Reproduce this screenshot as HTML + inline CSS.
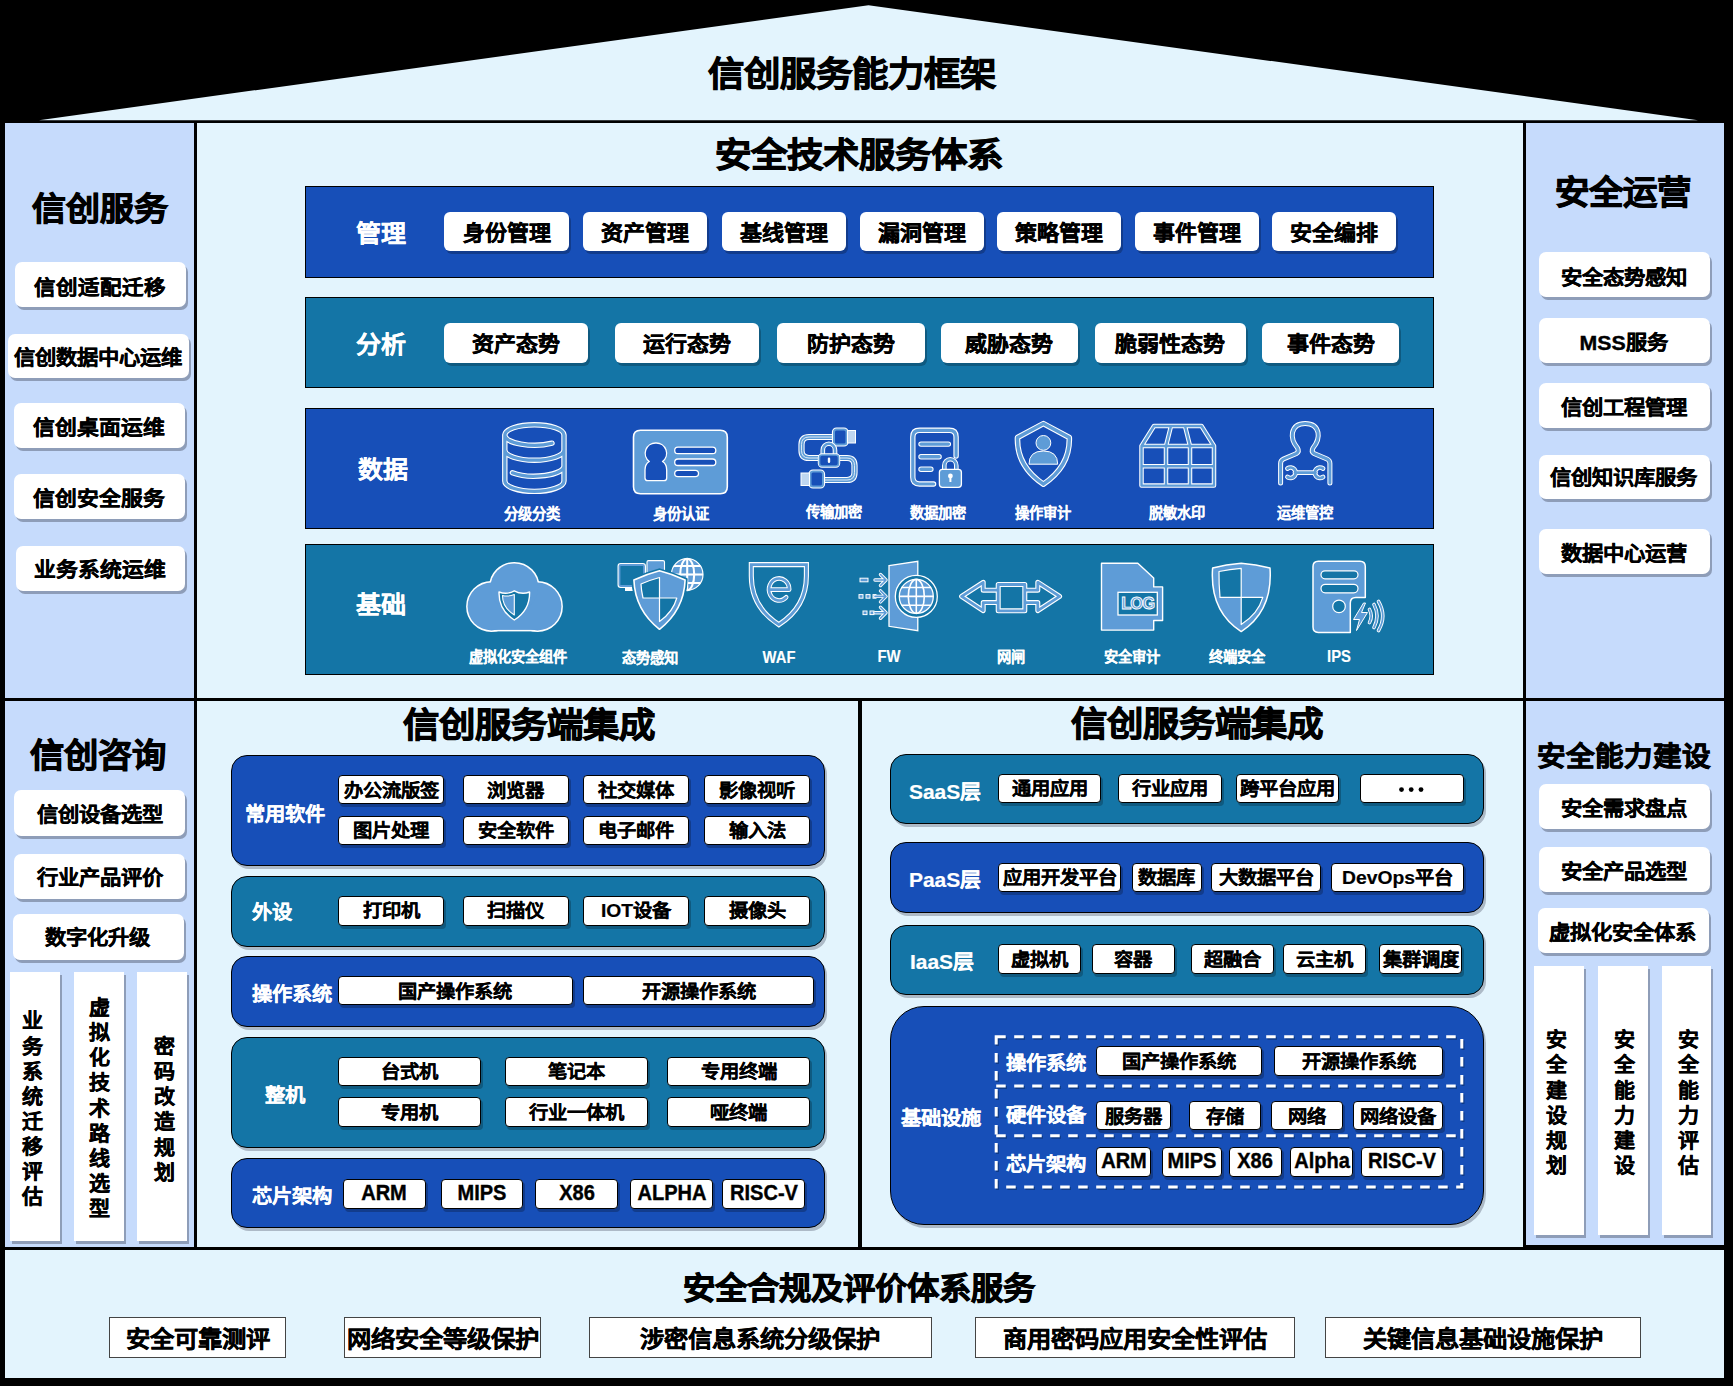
<!DOCTYPE html>
<html lang="zh-CN"><head><meta charset="utf-8"><title>信创服务能力框架</title>
<style>
html,body{margin:0;padding:0;}
body{width:1733px;height:1386px;background:#000;position:relative;overflow:hidden;font-family:"Liberation Sans",sans-serif;}
body>div{position:absolute;}
.t{display:flex;align-items:center;justify-content:center;font-weight:bold;line-height:1;white-space:nowrap;}
svg{position:absolute;left:0;top:0;}
</style></head><body>
<svg width="1733" height="130" style="left:0;top:0"><polygon points="39,120.2 868.5,5.2 1698,120.2" fill="#E3F4FD"/></svg>
<div style="left:5px;top:123px;width:189.2px;height:574.5px;background:#C6DBFC"></div>
<div style="left:197px;top:123px;width:1326px;height:574.5px;background:#E3F4FD"></div>
<div style="left:1526px;top:123px;width:198.3px;height:574.5px;background:#C6DBFC"></div>
<div style="left:5px;top:700.5px;width:188.5px;height:546.5px;background:#C6DBFC"></div>
<div style="left:197px;top:700.5px;width:661px;height:546.5px;background:#E3F4FD"></div>
<div style="left:861.5px;top:700.5px;width:661.5px;height:546.5px;background:#E3F4FD"></div>
<div style="left:1526px;top:700.5px;width:198.3px;height:544.7px;background:#C6DBFC"></div>
<div style="left:5px;top:1250px;width:1719.3px;height:128px;background:#E3F4FD"></div>
<div class="t" style="left:551.5px;top:25.0px;width:600px;height:100px;font-size:36.4px;color:#000;-webkit-text-stroke:1.0px #000;transform:scaleY(0.95);">信创服务能力框架</div>
<div class="t" style="left:558.6px;top:105.9px;width:600px;height:100px;font-size:36.4px;color:#000;-webkit-text-stroke:1.0px #000;transform:scaleY(0.95);">安全技术服务体系</div>
<div class="t" style="left:-199.6px;top:158.5px;width:600px;height:100px;font-size:34px;color:#000;-webkit-text-stroke:1.0px #000;transform:scaleY(0.95);">信创服务</div>
<div class="t" style="left:1322.9px;top:143.1px;width:600px;height:100px;font-size:34.4px;color:#000;-webkit-text-stroke:1.0px #000;transform:scaleY(0.95);">安全运营</div>
<div class="t" style="left:-201.8px;top:705.8px;width:600px;height:100px;font-size:34.3px;color:#000;-webkit-text-stroke:1.0px #000;transform:scaleY(0.95);">信创咨询</div>
<div class="t" style="left:1324.1px;top:705.9px;width:600px;height:100px;font-size:28.5px;color:#000;-webkit-text-stroke:0.8px #000;transform:scaleY(0.95);">安全能力建设</div>
<div class="t" style="left:228.9px;top:675.8px;width:600px;height:100px;font-size:36.4px;color:#000;-webkit-text-stroke:1.0px #000;transform:scaleY(0.95);">信创服务端集成</div>
<div class="t" style="left:896.6px;top:675.1px;width:600px;height:100px;font-size:36.4px;color:#000;-webkit-text-stroke:1.0px #000;transform:scaleY(0.95);">信创服务端集成</div>
<div class="t" style="left:558.7px;top:1239.1px;width:600px;height:100px;font-size:32.3px;color:#000;-webkit-text-stroke:0.9px #000;transform:scaleY(0.95);">安全合规及评价体系服务</div>
<div style="left:14.9px;top:262.1px;width:171.0px;height:45.3px;background:#fff;border-radius:7px;box-shadow:2px 3px 0 #8E9DB8;"></div>
<div class="t" style="left:-199.6px;top:238.8px;width:600px;height:100px;font-size:21.5px;color:#000;-webkit-text-stroke:0.4px #000;transform:scaleY(0.95);">信创适配迁移</div>
<div style="left:8px;top:333.5px;width:180.9px;height:44.0px;background:#fff;border-radius:7px;box-shadow:2px 3px 0 #8E9DB8;"></div>
<div class="t" style="left:-202.3px;top:308.9px;width:600px;height:100px;font-size:21.3px;color:#000;-webkit-text-stroke:0.4px #000;transform:scaleY(0.95);">信创数据中心运维</div>
<div style="left:14.1px;top:403.3px;width:171.0px;height:44.8px;background:#fff;border-radius:7px;box-shadow:2px 3px 0 #8E9DB8;"></div>
<div class="t" style="left:-201.2px;top:378.3px;width:600px;height:100px;font-size:21.8px;color:#000;-webkit-text-stroke:0.4px #000;transform:scaleY(0.95);">信创桌面运维</div>
<div style="left:14.1px;top:474.3px;width:171.0px;height:44.3px;background:#fff;border-radius:7px;box-shadow:2px 3px 0 #8E9DB8;"></div>
<div class="t" style="left:-201.2px;top:448.8px;width:600px;height:100px;font-size:21.8px;color:#000;-webkit-text-stroke:0.4px #000;transform:scaleY(0.95);">信创安全服务</div>
<div style="left:16.1px;top:546px;width:169.0px;height:44.8px;background:#fff;border-radius:7px;box-shadow:2px 3px 0 #8E9DB8;"></div>
<div class="t" style="left:-200.0px;top:520.3px;width:600px;height:100px;font-size:21.8px;color:#000;-webkit-text-stroke:0.4px #000;transform:scaleY(0.95);">业务系统运维</div>
<div style="left:1539.1px;top:252.1px;width:170.9px;height:45.3px;background:#fff;border-radius:7px;box-shadow:2px 3px 0 #8E9DB8;"></div>
<div class="t" style="left:1323.6px;top:228.8px;width:600px;height:100px;font-size:21.3px;color:#000;-webkit-text-stroke:0.4px #000;transform:scaleY(0.95);">安全态势感知</div>
<div style="left:1539.1px;top:317.6px;width:170.9px;height:45.1px;background:#fff;border-radius:7px;box-shadow:2px 3px 0 #8E9DB8;"></div>
<div class="t" style="left:1323.6px;top:293.8px;width:600px;height:100px;font-size:21.3px;color:#000;-webkit-text-stroke:0.4px #000;transform:scaleY(0.95);">MSS服务</div>
<div style="left:1539.1px;top:383.3px;width:170.9px;height:44.8px;background:#fff;border-radius:7px;box-shadow:2px 3px 0 #8E9DB8;"></div>
<div class="t" style="left:1323.6px;top:359.3px;width:600px;height:100px;font-size:21.3px;color:#000;-webkit-text-stroke:0.4px #000;transform:scaleY(0.95);">信创工程管理</div>
<div style="left:1539.1px;top:454.6px;width:170.9px;height:44.0px;background:#fff;border-radius:7px;box-shadow:2px 3px 0 #8E9DB8;"></div>
<div class="t" style="left:1323.6px;top:429.3px;width:600px;height:100px;font-size:21.3px;color:#000;-webkit-text-stroke:0.4px #000;transform:scaleY(0.95);">信创知识库服务</div>
<div style="left:1539.1px;top:529.3px;width:170.9px;height:44.4px;background:#fff;border-radius:7px;box-shadow:2px 3px 0 #8E9DB8;"></div>
<div class="t" style="left:1323.6px;top:504.8px;width:600px;height:100px;font-size:21.3px;color:#000;-webkit-text-stroke:0.4px #000;transform:scaleY(0.95);">数据中心运营</div>
<div style="left:305.2px;top:186px;width:1128.8px;height:91.5px;background:#174FB8;box-sizing:border-box;border:1px solid #000;"></div>
<div style="left:305.2px;top:297px;width:1128.8px;height:91.2px;background:#1475A6;box-sizing:border-box;border:1px solid #000;"></div>
<div style="left:305.2px;top:408.1px;width:1128.8px;height:120.5px;background:#174FB8;box-sizing:border-box;border:1px solid #000;"></div>
<div style="left:305.2px;top:544px;width:1128.8px;height:130.7px;background:#1475A6;box-sizing:border-box;border:1px solid #000;"></div>
<div class="t" style="left:80.5px;top:182.5px;width:600px;height:100px;font-size:25px;color:#fff;-webkit-text-stroke:0.2px #fff;transform:scaleY(0.95);">管理</div>
<div class="t" style="left:80.5px;top:293.8px;width:600px;height:100px;font-size:25px;color:#fff;-webkit-text-stroke:0.2px #fff;transform:scaleY(0.95);">分析</div>
<div class="t" style="left:83.0px;top:418.6px;width:600px;height:100px;font-size:25px;color:#fff;-webkit-text-stroke:0.2px #fff;transform:scaleY(0.95);">数据</div>
<div class="t" style="left:80.6px;top:553.8px;width:600px;height:100px;font-size:25px;color:#fff;-webkit-text-stroke:0.2px #fff;transform:scaleY(0.95);">基础</div>
<div style="left:444.4px;top:212.1px;width:124.2px;height:39.3px;background:#fff;border-radius:6px;box-shadow:2px 3px 0 #123C8C;"></div>
<div class="t" style="left:206.5px;top:182.8px;width:600px;height:100px;font-size:22px;color:#000;-webkit-text-stroke:0.4px #000;transform:scaleY(0.95);">身份管理</div>
<div style="left:583px;top:212.1px;width:124.2px;height:39.3px;background:#fff;border-radius:6px;box-shadow:2px 3px 0 #123C8C;"></div>
<div class="t" style="left:345.1px;top:182.8px;width:600px;height:100px;font-size:22px;color:#000;-webkit-text-stroke:0.4px #000;transform:scaleY(0.95);">资产管理</div>
<div style="left:721.6px;top:212.1px;width:124.2px;height:39.3px;background:#fff;border-radius:6px;box-shadow:2px 3px 0 #123C8C;"></div>
<div class="t" style="left:483.7px;top:182.8px;width:600px;height:100px;font-size:22px;color:#000;-webkit-text-stroke:0.4px #000;transform:scaleY(0.95);">基线管理</div>
<div style="left:860.1px;top:212.1px;width:124.2px;height:39.3px;background:#fff;border-radius:6px;box-shadow:2px 3px 0 #123C8C;"></div>
<div class="t" style="left:622.2px;top:182.8px;width:600px;height:100px;font-size:22px;color:#000;-webkit-text-stroke:0.4px #000;transform:scaleY(0.95);">漏洞管理</div>
<div style="left:997.3px;top:212.1px;width:124.2px;height:39.3px;background:#fff;border-radius:6px;box-shadow:2px 3px 0 #123C8C;"></div>
<div class="t" style="left:759.4px;top:182.8px;width:600px;height:100px;font-size:22px;color:#000;-webkit-text-stroke:0.4px #000;transform:scaleY(0.95);">策略管理</div>
<div style="left:1135.2px;top:212.1px;width:124.2px;height:39.3px;background:#fff;border-radius:6px;box-shadow:2px 3px 0 #123C8C;"></div>
<div class="t" style="left:897.3px;top:182.8px;width:600px;height:100px;font-size:22px;color:#000;-webkit-text-stroke:0.4px #000;transform:scaleY(0.95);">事件管理</div>
<div style="left:1271.7px;top:212.1px;width:124.2px;height:39.3px;background:#fff;border-radius:6px;box-shadow:2px 3px 0 #123C8C;"></div>
<div class="t" style="left:1033.8px;top:182.8px;width:600px;height:100px;font-size:22px;color:#000;-webkit-text-stroke:0.4px #000;transform:scaleY(0.95);">安全编排</div>
<div style="left:444.4px;top:322.6px;width:143.4px;height:40.2px;background:#fff;border-radius:6px;box-shadow:2px 3px 0 #0F5A80;"></div>
<div class="t" style="left:216.1px;top:293.8px;width:600px;height:100px;font-size:22px;color:#000;-webkit-text-stroke:0.4px #000;transform:scaleY(0.95);">资产态势</div>
<div style="left:614.8px;top:322.6px;width:144.3px;height:40.2px;background:#fff;border-radius:6px;box-shadow:2px 3px 0 #0F5A80;"></div>
<div class="t" style="left:387.0px;top:293.8px;width:600px;height:100px;font-size:22px;color:#000;-webkit-text-stroke:0.4px #000;transform:scaleY(0.95);">运行态势</div>
<div style="left:777.4px;top:322.6px;width:147.2px;height:40.2px;background:#fff;border-radius:6px;box-shadow:2px 3px 0 #0F5A80;"></div>
<div class="t" style="left:551.0px;top:293.8px;width:600px;height:100px;font-size:22px;color:#000;-webkit-text-stroke:0.4px #000;transform:scaleY(0.95);">防护态势</div>
<div style="left:940.8px;top:322.6px;width:137.1px;height:40.2px;background:#fff;border-radius:6px;box-shadow:2px 3px 0 #0F5A80;"></div>
<div class="t" style="left:709.4px;top:293.8px;width:600px;height:100px;font-size:22px;color:#000;-webkit-text-stroke:0.4px #000;transform:scaleY(0.95);">威胁态势</div>
<div style="left:1095px;top:322.6px;width:150.6px;height:40.2px;background:#fff;border-radius:6px;box-shadow:2px 3px 0 #0F5A80;"></div>
<div class="t" style="left:870.3px;top:293.8px;width:600px;height:100px;font-size:22px;color:#000;-webkit-text-stroke:0.4px #000;transform:scaleY(0.95);">脆弱性态势</div>
<div style="left:1262.4px;top:322.6px;width:136.6px;height:40.2px;background:#fff;border-radius:6px;box-shadow:2px 3px 0 #0F5A80;"></div>
<div class="t" style="left:1030.7px;top:293.8px;width:600px;height:100px;font-size:22px;color:#000;-webkit-text-stroke:0.4px #000;transform:scaleY(0.95);">事件态势</div>
<div style="left:14px;top:790.3px;width:171.3px;height:45.7px;background:#fff;border-radius:7px;box-shadow:2px 3px 0 #8E9DB8;"></div>
<div class="t" style="left:-200.4px;top:766.0px;width:600px;height:100px;font-size:21.3px;color:#000;-webkit-text-stroke:0.4px #000;transform:scaleY(0.95);">信创设备选型</div>
<div style="left:14px;top:853.7px;width:171.3px;height:45.7px;background:#fff;border-radius:7px;box-shadow:2px 3px 0 #8E9DB8;"></div>
<div class="t" style="left:-200.4px;top:829.4px;width:600px;height:100px;font-size:21.3px;color:#000;-webkit-text-stroke:0.4px #000;transform:scaleY(0.95);">行业产品评价</div>
<div style="left:12.7px;top:913.9px;width:171.3px;height:45.7px;background:#fff;border-radius:7px;box-shadow:2px 3px 0 #8E9DB8;"></div>
<div class="t" style="left:-202.9px;top:889.3px;width:600px;height:100px;font-size:21.3px;color:#000;-webkit-text-stroke:0.4px #000;transform:scaleY(0.95);">数字化升级</div>
<div style="left:10.2px;top:972.3px;width:49.5px;height:268.4px;background:#fff;border-radius:0px;box-shadow:2px 3px 0 #8E9DB8;"></div>
<div class="t" style="left:-267.5px;top:970.4px;width:600px;height:100px;font-size:21px;color:#000;-webkit-text-stroke:0.4px #000;transform:scaleY(0.95);">业</div>
<div class="t" style="left:-267.5px;top:995.5px;width:600px;height:100px;font-size:21px;color:#000;-webkit-text-stroke:0.4px #000;transform:scaleY(0.95);">务</div>
<div class="t" style="left:-267.5px;top:1020.5px;width:600px;height:100px;font-size:21px;color:#000;-webkit-text-stroke:0.4px #000;transform:scaleY(0.95);">系</div>
<div class="t" style="left:-267.5px;top:1045.7px;width:600px;height:100px;font-size:21px;color:#000;-webkit-text-stroke:0.4px #000;transform:scaleY(0.95);">统</div>
<div class="t" style="left:-267.5px;top:1070.8px;width:600px;height:100px;font-size:21px;color:#000;-webkit-text-stroke:0.4px #000;transform:scaleY(0.95);">迁</div>
<div class="t" style="left:-267.5px;top:1095.9px;width:600px;height:100px;font-size:21px;color:#000;-webkit-text-stroke:0.4px #000;transform:scaleY(0.95);">移</div>
<div class="t" style="left:-267.5px;top:1121.0px;width:600px;height:100px;font-size:21px;color:#000;-webkit-text-stroke:0.4px #000;transform:scaleY(0.95);">评</div>
<div class="t" style="left:-267.5px;top:1146.0px;width:600px;height:100px;font-size:21px;color:#000;-webkit-text-stroke:0.4px #000;transform:scaleY(0.95);">估</div>
<div style="left:73.6px;top:972.3px;width:50.0px;height:268.4px;background:#fff;border-radius:0px;box-shadow:2px 3px 0 #8E9DB8;"></div>
<div class="t" style="left:-200.5px;top:957.1px;width:600px;height:100px;font-size:21px;color:#000;-webkit-text-stroke:0.4px #000;transform:scaleY(0.95);">虚</div>
<div class="t" style="left:-200.5px;top:982.2px;width:600px;height:100px;font-size:21px;color:#000;-webkit-text-stroke:0.4px #000;transform:scaleY(0.95);">拟</div>
<div class="t" style="left:-200.5px;top:1007.3px;width:600px;height:100px;font-size:21px;color:#000;-webkit-text-stroke:0.4px #000;transform:scaleY(0.95);">化</div>
<div class="t" style="left:-200.5px;top:1032.4px;width:600px;height:100px;font-size:21px;color:#000;-webkit-text-stroke:0.4px #000;transform:scaleY(0.95);">技</div>
<div class="t" style="left:-200.5px;top:1057.5px;width:600px;height:100px;font-size:21px;color:#000;-webkit-text-stroke:0.4px #000;transform:scaleY(0.95);">术</div>
<div class="t" style="left:-200.5px;top:1082.6px;width:600px;height:100px;font-size:21px;color:#000;-webkit-text-stroke:0.4px #000;transform:scaleY(0.95);">路</div>
<div class="t" style="left:-200.5px;top:1107.7px;width:600px;height:100px;font-size:21px;color:#000;-webkit-text-stroke:0.4px #000;transform:scaleY(0.95);">线</div>
<div class="t" style="left:-200.5px;top:1132.8px;width:600px;height:100px;font-size:21px;color:#000;-webkit-text-stroke:0.4px #000;transform:scaleY(0.95);">选</div>
<div class="t" style="left:-200.5px;top:1157.9px;width:600px;height:100px;font-size:21px;color:#000;-webkit-text-stroke:0.4px #000;transform:scaleY(0.95);">型</div>
<div style="left:137.1px;top:972.3px;width:50.3px;height:268.4px;background:#fff;border-radius:0px;box-shadow:2px 3px 0 #8E9DB8;"></div>
<div class="t" style="left:-136.0px;top:996.0px;width:600px;height:100px;font-size:21px;color:#000;-webkit-text-stroke:0.4px #000;transform:scaleY(0.95);">密</div>
<div class="t" style="left:-136.0px;top:1021.1px;width:600px;height:100px;font-size:21px;color:#000;-webkit-text-stroke:0.4px #000;transform:scaleY(0.95);">码</div>
<div class="t" style="left:-136.0px;top:1046.2px;width:600px;height:100px;font-size:21px;color:#000;-webkit-text-stroke:0.4px #000;transform:scaleY(0.95);">改</div>
<div class="t" style="left:-136.0px;top:1071.3px;width:600px;height:100px;font-size:21px;color:#000;-webkit-text-stroke:0.4px #000;transform:scaleY(0.95);">造</div>
<div class="t" style="left:-136.0px;top:1096.5px;width:600px;height:100px;font-size:21px;color:#000;-webkit-text-stroke:0.4px #000;transform:scaleY(0.95);">规</div>
<div class="t" style="left:-136.0px;top:1121.5px;width:600px;height:100px;font-size:21px;color:#000;-webkit-text-stroke:0.4px #000;transform:scaleY(0.95);">划</div>
<div style="left:1539.1px;top:783.9px;width:170.7px;height:45.2px;background:#fff;border-radius:7px;box-shadow:2px 3px 0 #8E9DB8;"></div>
<div class="t" style="left:1323.7px;top:760.0px;width:600px;height:100px;font-size:21.3px;color:#000;-webkit-text-stroke:0.4px #000;transform:scaleY(0.95);">安全需求盘点</div>
<div style="left:1539.1px;top:847px;width:170.7px;height:45.4px;background:#fff;border-radius:7px;box-shadow:2px 3px 0 #8E9DB8;"></div>
<div class="t" style="left:1323.7px;top:823.3px;width:600px;height:100px;font-size:21.3px;color:#000;-webkit-text-stroke:0.4px #000;transform:scaleY(0.95);">安全产品选型</div>
<div style="left:1538px;top:908px;width:171px;height:44.7px;background:#fff;border-radius:7px;box-shadow:2px 3px 0 #8E9DB8;"></div>
<div class="t" style="left:1322.2px;top:883.8px;width:600px;height:100px;font-size:21.3px;color:#000;-webkit-text-stroke:0.4px #000;transform:scaleY(0.95);">虚拟化安全体系</div>
<div style="left:1534px;top:965.7px;width:50.3px;height:268.9px;background:#fff;border-radius:0px;box-shadow:2px 3px 0 #8E9DB8;"></div>
<div class="t" style="left:1256.6px;top:989.3px;width:600px;height:100px;font-size:21px;color:#000;-webkit-text-stroke:0.4px #000;transform:scaleY(0.95);">安</div>
<div class="t" style="left:1256.6px;top:1014.4px;width:600px;height:100px;font-size:21px;color:#000;-webkit-text-stroke:0.4px #000;transform:scaleY(0.95);">全</div>
<div class="t" style="left:1256.6px;top:1039.5px;width:600px;height:100px;font-size:21px;color:#000;-webkit-text-stroke:0.4px #000;transform:scaleY(0.95);">建</div>
<div class="t" style="left:1256.6px;top:1064.6px;width:600px;height:100px;font-size:21px;color:#000;-webkit-text-stroke:0.4px #000;transform:scaleY(0.95);">设</div>
<div class="t" style="left:1256.6px;top:1089.8px;width:600px;height:100px;font-size:21px;color:#000;-webkit-text-stroke:0.4px #000;transform:scaleY(0.95);">规</div>
<div class="t" style="left:1256.6px;top:1114.8px;width:600px;height:100px;font-size:21px;color:#000;-webkit-text-stroke:0.4px #000;transform:scaleY(0.95);">划</div>
<div style="left:1598.1px;top:965.7px;width:49.7px;height:268.9px;background:#fff;border-radius:0px;box-shadow:2px 3px 0 #8E9DB8;"></div>
<div class="t" style="left:1324.2px;top:989.3px;width:600px;height:100px;font-size:21px;color:#000;-webkit-text-stroke:0.4px #000;transform:scaleY(0.95);">安</div>
<div class="t" style="left:1324.2px;top:1014.4px;width:600px;height:100px;font-size:21px;color:#000;-webkit-text-stroke:0.4px #000;transform:scaleY(0.95);">全</div>
<div class="t" style="left:1324.2px;top:1039.5px;width:600px;height:100px;font-size:21px;color:#000;-webkit-text-stroke:0.4px #000;transform:scaleY(0.95);">能</div>
<div class="t" style="left:1324.2px;top:1064.6px;width:600px;height:100px;font-size:21px;color:#000;-webkit-text-stroke:0.4px #000;transform:scaleY(0.95);">力</div>
<div class="t" style="left:1324.2px;top:1089.8px;width:600px;height:100px;font-size:21px;color:#000;-webkit-text-stroke:0.4px #000;transform:scaleY(0.95);">建</div>
<div class="t" style="left:1324.2px;top:1114.8px;width:600px;height:100px;font-size:21px;color:#000;-webkit-text-stroke:0.4px #000;transform:scaleY(0.95);">设</div>
<div style="left:1661.9px;top:965.7px;width:49.4px;height:268.9px;background:#fff;border-radius:0px;box-shadow:2px 3px 0 #8E9DB8;"></div>
<div class="t" style="left:1388.6px;top:989.3px;width:600px;height:100px;font-size:21px;color:#000;-webkit-text-stroke:0.4px #000;transform:scaleY(0.95);">安</div>
<div class="t" style="left:1388.6px;top:1014.4px;width:600px;height:100px;font-size:21px;color:#000;-webkit-text-stroke:0.4px #000;transform:scaleY(0.95);">全</div>
<div class="t" style="left:1388.6px;top:1039.5px;width:600px;height:100px;font-size:21px;color:#000;-webkit-text-stroke:0.4px #000;transform:scaleY(0.95);">能</div>
<div class="t" style="left:1388.6px;top:1064.6px;width:600px;height:100px;font-size:21px;color:#000;-webkit-text-stroke:0.4px #000;transform:scaleY(0.95);">力</div>
<div class="t" style="left:1388.6px;top:1089.8px;width:600px;height:100px;font-size:21px;color:#000;-webkit-text-stroke:0.4px #000;transform:scaleY(0.95);">评</div>
<div class="t" style="left:1388.6px;top:1114.8px;width:600px;height:100px;font-size:21px;color:#000;-webkit-text-stroke:0.4px #000;transform:scaleY(0.95);">估</div>
<div style="left:230.5px;top:754.5px;width:594.1px;height:111.0px;background:#174FB8;border-radius:16px;box-sizing:border-box;border:1.3px solid #000;box-shadow:2px 3px 0 #ADBAC7"></div>
<div class="t" style="left:-14.7px;top:764.0px;width:600px;height:100px;font-size:20.3px;color:#fff;-webkit-text-stroke:0.2px #fff;transform:scaleY(0.95);">常用软件</div>
<div style="left:338.2px;top:775.1px;width:106.1px;height:29.3px;background:#fff;border-radius:4px;box-shadow:2px 3px 0 #123C8C;box-sizing:border-box;border:1px solid #000;"></div>
<div class="t" style="left:91.2px;top:740.5px;width:600px;height:100px;font-size:19.3px;color:#000;-webkit-text-stroke:0.2px #000;transform:scaleY(0.95);">办公流版签</div>
<div style="left:462.7px;top:775.1px;width:106.1px;height:29.3px;background:#fff;border-radius:4px;box-shadow:2px 3px 0 #123C8C;box-sizing:border-box;border:1px solid #000;"></div>
<div class="t" style="left:215.8px;top:740.5px;width:600px;height:100px;font-size:19.3px;color:#000;-webkit-text-stroke:0.2px #000;transform:scaleY(0.95);">浏览器</div>
<div style="left:583.1px;top:775.1px;width:105.8px;height:29.3px;background:#fff;border-radius:4px;box-shadow:2px 3px 0 #123C8C;box-sizing:border-box;border:1px solid #000;"></div>
<div class="t" style="left:336.0px;top:740.5px;width:600px;height:100px;font-size:19.3px;color:#000;-webkit-text-stroke:0.2px #000;transform:scaleY(0.95);">社交媒体</div>
<div style="left:703.9px;top:775.1px;width:106.1px;height:29.3px;background:#fff;border-radius:4px;box-shadow:2px 3px 0 #123C8C;box-sizing:border-box;border:1px solid #000;"></div>
<div class="t" style="left:457.0px;top:740.5px;width:600px;height:100px;font-size:19.3px;color:#000;-webkit-text-stroke:0.2px #000;transform:scaleY(0.95);">影像视听</div>
<div style="left:338.2px;top:815.7px;width:106.1px;height:29.2px;background:#fff;border-radius:4px;box-shadow:2px 3px 0 #123C8C;box-sizing:border-box;border:1px solid #000;"></div>
<div class="t" style="left:91.2px;top:781.1px;width:600px;height:100px;font-size:19.3px;color:#000;-webkit-text-stroke:0.2px #000;transform:scaleY(0.95);">图片处理</div>
<div style="left:462.7px;top:815.7px;width:106.1px;height:29.2px;background:#fff;border-radius:4px;box-shadow:2px 3px 0 #123C8C;box-sizing:border-box;border:1px solid #000;"></div>
<div class="t" style="left:215.8px;top:781.1px;width:600px;height:100px;font-size:19.3px;color:#000;-webkit-text-stroke:0.2px #000;transform:scaleY(0.95);">安全软件</div>
<div style="left:583.1px;top:815.7px;width:105.8px;height:29.2px;background:#fff;border-radius:4px;box-shadow:2px 3px 0 #123C8C;box-sizing:border-box;border:1px solid #000;"></div>
<div class="t" style="left:336.0px;top:781.1px;width:600px;height:100px;font-size:19.3px;color:#000;-webkit-text-stroke:0.2px #000;transform:scaleY(0.95);">电子邮件</div>
<div style="left:703.9px;top:815.7px;width:106.1px;height:29.2px;background:#fff;border-radius:4px;box-shadow:2px 3px 0 #123C8C;box-sizing:border-box;border:1px solid #000;"></div>
<div class="t" style="left:457.0px;top:781.1px;width:600px;height:100px;font-size:19.3px;color:#000;-webkit-text-stroke:0.2px #000;transform:scaleY(0.95);">输入法</div>
<div style="left:230.5px;top:875.7px;width:594.1px;height:71.2px;background:#1475A6;border-radius:16px;box-sizing:border-box;border:1.3px solid #000;box-shadow:2px 3px 0 #ADBAC7"></div>
<div class="t" style="left:-28.4px;top:862.1px;width:600px;height:100px;font-size:20.3px;color:#fff;-webkit-text-stroke:0.2px #fff;transform:scaleY(0.95);">外设</div>
<div style="left:338.2px;top:895.6px;width:106.1px;height:30.0px;background:#fff;border-radius:4px;box-shadow:2px 3px 0 #0F5A80;box-sizing:border-box;border:1px solid #000;"></div>
<div class="t" style="left:91.2px;top:861.4px;width:600px;height:100px;font-size:19.3px;color:#000;-webkit-text-stroke:0.2px #000;transform:scaleY(0.95);">打印机</div>
<div style="left:462.7px;top:895.6px;width:106.1px;height:30.0px;background:#fff;border-radius:4px;box-shadow:2px 3px 0 #0F5A80;box-sizing:border-box;border:1px solid #000;"></div>
<div class="t" style="left:215.8px;top:861.4px;width:600px;height:100px;font-size:19.3px;color:#000;-webkit-text-stroke:0.2px #000;transform:scaleY(0.95);">扫描仪</div>
<div style="left:583.1px;top:895.6px;width:105.8px;height:30.0px;background:#fff;border-radius:4px;box-shadow:2px 3px 0 #0F5A80;box-sizing:border-box;border:1px solid #000;"></div>
<div class="t" style="left:336.0px;top:861.4px;width:600px;height:100px;font-size:19.3px;color:#000;-webkit-text-stroke:0.2px #000;transform:scaleY(0.95);">IOT设备</div>
<div style="left:703.9px;top:895.6px;width:106.1px;height:30.0px;background:#fff;border-radius:4px;box-shadow:2px 3px 0 #0F5A80;box-sizing:border-box;border:1px solid #000;"></div>
<div class="t" style="left:457.0px;top:861.4px;width:600px;height:100px;font-size:19.3px;color:#000;-webkit-text-stroke:0.2px #000;transform:scaleY(0.95);">摄像头</div>
<div style="left:230.5px;top:956.4px;width:594.1px;height:70.5px;background:#174FB8;border-radius:16px;box-sizing:border-box;border:1.3px solid #000;box-shadow:2px 3px 0 #ADBAC7"></div>
<div class="t" style="left:-8.2px;top:943.9px;width:600px;height:100px;font-size:20.3px;color:#fff;-webkit-text-stroke:0.2px #fff;transform:scaleY(0.95);">操作系统</div>
<div style="left:338.2px;top:976.3px;width:234.4px;height:29.2px;background:#fff;border-radius:4px;box-shadow:2px 3px 0 #123C8C;box-sizing:border-box;border:1px solid #000;"></div>
<div class="t" style="left:155.4px;top:941.7px;width:600px;height:100px;font-size:19.3px;color:#000;-webkit-text-stroke:0.2px #000;transform:scaleY(0.95);">国产操作系统</div>
<div style="left:583.1px;top:976.3px;width:231.4px;height:29.2px;background:#fff;border-radius:4px;box-shadow:2px 3px 0 #123C8C;box-sizing:border-box;border:1px solid #000;"></div>
<div class="t" style="left:398.8px;top:941.7px;width:600px;height:100px;font-size:19.3px;color:#000;-webkit-text-stroke:0.2px #000;transform:scaleY(0.95);">开源操作系统</div>
<div style="left:230.5px;top:1037px;width:594.1px;height:110.7px;background:#1475A6;border-radius:16px;box-sizing:border-box;border:1.3px solid #000;box-shadow:2px 3px 0 #ADBAC7"></div>
<div class="t" style="left:-15.1px;top:1044.8px;width:600px;height:100px;font-size:20.3px;color:#fff;-webkit-text-stroke:0.2px #fff;transform:scaleY(0.95);">整机</div>
<div style="left:338.2px;top:1056.9px;width:143.2px;height:29.3px;background:#fff;border-radius:4px;box-shadow:2px 3px 0 #0F5A80;box-sizing:border-box;border:1px solid #000;"></div>
<div class="t" style="left:109.8px;top:1022.4px;width:600px;height:100px;font-size:19.3px;color:#000;-webkit-text-stroke:0.2px #000;transform:scaleY(0.95);">台式机</div>
<div style="left:505px;top:1056.9px;width:142.6px;height:29.3px;background:#fff;border-radius:4px;box-shadow:2px 3px 0 #0F5A80;box-sizing:border-box;border:1px solid #000;"></div>
<div class="t" style="left:276.3px;top:1022.4px;width:600px;height:100px;font-size:19.3px;color:#000;-webkit-text-stroke:0.2px #000;transform:scaleY(0.95);">笔记本</div>
<div style="left:667.1px;top:1056.9px;width:142.9px;height:29.3px;background:#fff;border-radius:4px;box-shadow:2px 3px 0 #0F5A80;box-sizing:border-box;border:1px solid #000;"></div>
<div class="t" style="left:438.5px;top:1022.4px;width:600px;height:100px;font-size:19.3px;color:#000;-webkit-text-stroke:0.2px #000;transform:scaleY(0.95);">专用终端</div>
<div style="left:338.2px;top:1097.4px;width:143.2px;height:29.3px;background:#fff;border-radius:4px;box-shadow:2px 3px 0 #0F5A80;box-sizing:border-box;border:1px solid #000;"></div>
<div class="t" style="left:109.8px;top:1062.9px;width:600px;height:100px;font-size:19.3px;color:#000;-webkit-text-stroke:0.2px #000;transform:scaleY(0.95);">专用机</div>
<div style="left:505px;top:1097.4px;width:142.6px;height:29.3px;background:#fff;border-radius:4px;box-shadow:2px 3px 0 #0F5A80;box-sizing:border-box;border:1px solid #000;"></div>
<div class="t" style="left:276.3px;top:1062.9px;width:600px;height:100px;font-size:19.3px;color:#000;-webkit-text-stroke:0.2px #000;transform:scaleY(0.95);">行业一体机</div>
<div style="left:667.1px;top:1097.4px;width:142.9px;height:29.3px;background:#fff;border-radius:4px;box-shadow:2px 3px 0 #0F5A80;box-sizing:border-box;border:1px solid #000;"></div>
<div class="t" style="left:438.5px;top:1062.9px;width:600px;height:100px;font-size:19.3px;color:#000;-webkit-text-stroke:0.2px #000;transform:scaleY(0.95);">哑终端</div>
<div style="left:230.5px;top:1158.2px;width:594.1px;height:70.1px;background:#174FB8;border-radius:16px;box-sizing:border-box;border:1.3px solid #000;box-shadow:2px 3px 0 #ADBAC7"></div>
<div class="t" style="left:-8.2px;top:1146.1px;width:600px;height:100px;font-size:20.3px;color:#fff;-webkit-text-stroke:0.2px #fff;transform:scaleY(0.95);">芯片架构</div>
<div style="left:343px;top:1178.8px;width:82.6px;height:30.0px;background:#fff;border-radius:4px;box-shadow:2px 3px 0 #123C8C;box-sizing:border-box;border:1px solid #000;"></div>
<div class="t" style="left:84.3px;top:1142.9px;width:600px;height:100px;font-size:22.26px;color:#000;-webkit-text-stroke:0.4px #000;transform:scaleX(0.9);">ARM</div>
<div style="left:440.6px;top:1178.8px;width:82.5px;height:30.0px;background:#fff;border-radius:4px;box-shadow:2px 3px 0 #123C8C;box-sizing:border-box;border:1px solid #000;"></div>
<div class="t" style="left:181.9px;top:1142.9px;width:600px;height:100px;font-size:22.26px;color:#000;-webkit-text-stroke:0.4px #000;transform:scaleX(0.9);">MIPS</div>
<div style="left:535.1px;top:1178.8px;width:83.2px;height:30.0px;background:#fff;border-radius:4px;box-shadow:2px 3px 0 #123C8C;box-sizing:border-box;border:1px solid #000;"></div>
<div class="t" style="left:276.7px;top:1142.9px;width:600px;height:100px;font-size:22.26px;color:#000;-webkit-text-stroke:0.4px #000;transform:scaleX(0.9);">X86</div>
<div style="left:630px;top:1178.8px;width:83.3px;height:30.0px;background:#fff;border-radius:4px;box-shadow:2px 3px 0 #123C8C;box-sizing:border-box;border:1px solid #000;"></div>
<div class="t" style="left:371.6px;top:1142.9px;width:600px;height:100px;font-size:22.26px;color:#000;-webkit-text-stroke:0.4px #000;transform:scaleX(0.9);">ALPHA</div>
<div style="left:721.9px;top:1178.8px;width:83.3px;height:30.0px;background:#fff;border-radius:4px;box-shadow:2px 3px 0 #123C8C;box-sizing:border-box;border:1px solid #000;"></div>
<div class="t" style="left:463.5px;top:1142.9px;width:600px;height:100px;font-size:22.26px;color:#000;-webkit-text-stroke:0.4px #000;transform:scaleX(0.9);">RISC-V</div>
<div style="left:889.7px;top:753.6px;width:594.8px;height:70.4px;background:#1475A6;border-radius:16px;box-sizing:border-box;border:1.3px solid #000;box-shadow:2px 3px 0 #ADBAC7"></div>
<div class="t" style="left:645.1px;top:741.3px;width:600px;height:100px;font-size:21px;color:#fff;-webkit-text-stroke:0.2px #fff;transform:scaleY(0.95);">SaaS层</div>
<div style="left:997.9px;top:773.8px;width:103.1px;height:29.7px;background:#fff;border-radius:4px;box-shadow:2px 3px 0 #0F5A80;box-sizing:border-box;border:1px solid #000;"></div>
<div class="t" style="left:749.5px;top:739.4px;width:600px;height:100px;font-size:19.3px;color:#000;-webkit-text-stroke:0.2px #000;transform:scaleY(0.95);">通用应用</div>
<div style="left:1118.2px;top:773.8px;width:103.6px;height:29.7px;background:#fff;border-radius:4px;box-shadow:2px 3px 0 #0F5A80;box-sizing:border-box;border:1px solid #000;"></div>
<div class="t" style="left:870.0px;top:739.4px;width:600px;height:100px;font-size:19.3px;color:#000;-webkit-text-stroke:0.2px #000;transform:scaleY(0.95);">行业应用</div>
<div style="left:1235.9px;top:773.8px;width:103.1px;height:29.7px;background:#fff;border-radius:4px;box-shadow:2px 3px 0 #0F5A80;box-sizing:border-box;border:1px solid #000;"></div>
<div class="t" style="left:987.5px;top:739.4px;width:600px;height:100px;font-size:19.3px;color:#000;-webkit-text-stroke:0.2px #000;transform:scaleY(0.95);">跨平台应用</div>
<div style="left:1360px;top:773.8px;width:104.3px;height:29.7px;background:#fff;border-radius:4px;box-shadow:2px 3px 0 #0F5A80;box-sizing:border-box;border:1px solid #000;"></div>
<svg width="40" height="20" style="left:1392px;top:780px"><circle cx="9.5" cy="9.6" r="2.4"/><circle cx="19.2" cy="9.6" r="2.4"/><circle cx="29" cy="9.6" r="2.4"/></svg>
<div style="left:889.7px;top:842.3px;width:594.8px;height:70.5px;background:#174FB8;border-radius:16px;box-sizing:border-box;border:1.3px solid #000;box-shadow:2px 3px 0 #ADBAC7"></div>
<div class="t" style="left:645.1px;top:829.3px;width:600px;height:100px;font-size:21px;color:#fff;-webkit-text-stroke:0.2px #fff;transform:scaleY(0.95);">PaaS层</div>
<div style="left:997.9px;top:862.5px;width:123.3px;height:29.3px;background:#fff;border-radius:4px;box-shadow:2px 3px 0 #123C8C;box-sizing:border-box;border:1px solid #000;"></div>
<div class="t" style="left:759.5px;top:827.9px;width:600px;height:100px;font-size:19.3px;color:#000;-webkit-text-stroke:0.2px #000;transform:scaleY(0.95);">应用开发平台</div>
<div style="left:1131.5px;top:862.5px;width:70.1px;height:29.3px;background:#fff;border-radius:4px;box-shadow:2px 3px 0 #123C8C;box-sizing:border-box;border:1px solid #000;"></div>
<div class="t" style="left:866.5px;top:827.9px;width:600px;height:100px;font-size:19.3px;color:#000;-webkit-text-stroke:0.2px #000;transform:scaleY(0.95);">数据库</div>
<div style="left:1210.7px;top:862.5px;width:110.8px;height:29.3px;background:#fff;border-radius:4px;box-shadow:2px 3px 0 #123C8C;box-sizing:border-box;border:1px solid #000;"></div>
<div class="t" style="left:966.1px;top:827.9px;width:600px;height:100px;font-size:19.3px;color:#000;-webkit-text-stroke:0.2px #000;transform:scaleY(0.95);">大数据平台</div>
<div style="left:1331.4px;top:862.5px;width:132.2px;height:29.3px;background:#fff;border-radius:4px;box-shadow:2px 3px 0 #123C8C;box-sizing:border-box;border:1px solid #000;"></div>
<div class="t" style="left:1097.5px;top:827.9px;width:600px;height:100px;font-size:19.3px;color:#000;-webkit-text-stroke:0.2px #000;transform:scaleY(0.95);">DevOps平台</div>
<div style="left:889.7px;top:925px;width:594.8px;height:69.6px;background:#1475A6;border-radius:16px;box-sizing:border-box;border:1.3px solid #000;box-shadow:2px 3px 0 #ADBAC7"></div>
<div class="t" style="left:642.0px;top:910.8px;width:600px;height:100px;font-size:21px;color:#fff;-webkit-text-stroke:0.2px #fff;transform:scaleY(0.95);">IaaS层</div>
<div style="left:997.9px;top:944.4px;width:83.0px;height:29.3px;background:#fff;border-radius:4px;box-shadow:2px 3px 0 #0F5A80;box-sizing:border-box;border:1px solid #000;"></div>
<div class="t" style="left:739.4px;top:909.8px;width:600px;height:100px;font-size:19.3px;color:#000;-webkit-text-stroke:0.2px #000;transform:scaleY(0.95);">虚拟机</div>
<div style="left:1091.5px;top:944.4px;width:83.0px;height:29.3px;background:#fff;border-radius:4px;box-shadow:2px 3px 0 #0F5A80;box-sizing:border-box;border:1px solid #000;"></div>
<div class="t" style="left:833.0px;top:909.8px;width:600px;height:100px;font-size:19.3px;color:#000;-webkit-text-stroke:0.2px #000;transform:scaleY(0.95);">容器</div>
<div style="left:1190.5px;top:944.4px;width:83.1px;height:29.3px;background:#fff;border-radius:4px;box-shadow:2px 3px 0 #0F5A80;box-sizing:border-box;border:1px solid #000;"></div>
<div class="t" style="left:932.0px;top:909.8px;width:600px;height:100px;font-size:19.3px;color:#000;-webkit-text-stroke:0.2px #000;transform:scaleY(0.95);">超融合</div>
<div style="left:1282.7px;top:944.4px;width:83.0px;height:29.3px;background:#fff;border-radius:4px;box-shadow:2px 3px 0 #0F5A80;box-sizing:border-box;border:1px solid #000;"></div>
<div class="t" style="left:1024.2px;top:909.8px;width:600px;height:100px;font-size:19.3px;color:#000;-webkit-text-stroke:0.2px #000;transform:scaleY(0.95);">云主机</div>
<div style="left:1379px;top:944.4px;width:83.4px;height:29.3px;background:#fff;border-radius:4px;box-shadow:2px 3px 0 #0F5A80;box-sizing:border-box;border:1px solid #000;"></div>
<div class="t" style="left:1120.7px;top:909.8px;width:600px;height:100px;font-size:19.3px;color:#000;-webkit-text-stroke:0.2px #000;transform:scaleY(0.95);">集群调度</div>
<div style="left:889.7px;top:1006px;width:594.8px;height:219.3px;background:#174FB8;border-radius:34px;box-sizing:border-box;border:1.3px solid #000;box-shadow:2px 3px 0 #ADBAC7"></div>
<div class="t" style="left:641.1px;top:1068.0px;width:600px;height:100px;font-size:20.3px;color:#fff;-webkit-text-stroke:0.2px #fff;transform:scaleY(0.95);">基础设施</div>
<svg width="1733" height="1386" style="left:0;top:0;pointer-events:none"><g fill="none" stroke="#0E3A86" stroke-width="3" stroke-dasharray="9.5 8.5" transform="translate(1.2,1.5)"><rect x="996.2" y="1036.7" width="465.6" height="150.3"/><line x1="996.2" y1="1086" x2="1461.8" y2="1086"/><line x1="996.2" y1="1135.8" x2="1461.8" y2="1135.8"/></g><g fill="none" stroke="#fff" stroke-width="3" stroke-dasharray="9.5 8.5"><rect x="996.2" y="1036.7" width="465.6" height="150.3"/><line x1="996.2" y1="1086" x2="1461.8" y2="1086"/><line x1="996.2" y1="1135.8" x2="1461.8" y2="1135.8"/></g></svg>
<div class="t" style="left:745.8px;top:1013.2px;width:600px;height:100px;font-size:20.3px;color:#fff;-webkit-text-stroke:0.2px #fff;transform:scaleY(0.95);">操作系统</div>
<div class="t" style="left:745.8px;top:1064.6px;width:600px;height:100px;font-size:20.3px;color:#fff;-webkit-text-stroke:0.2px #fff;transform:scaleY(0.95);">硬件设备</div>
<div class="t" style="left:745.8px;top:1114.1px;width:600px;height:100px;font-size:20.3px;color:#fff;-webkit-text-stroke:0.2px #fff;transform:scaleY(0.95);">芯片架构</div>
<div style="left:1096.1px;top:1046.4px;width:165.6px;height:29.3px;background:#fff;border-radius:4px;box-shadow:2px 3px 0 #123C8C;box-sizing:border-box;border:1px solid #000;"></div>
<div class="t" style="left:878.9px;top:1011.9px;width:600px;height:100px;font-size:19.3px;color:#000;-webkit-text-stroke:0.2px #000;transform:scaleY(0.95);">国产操作系统</div>
<div style="left:1274.3px;top:1046.4px;width:169.1px;height:29.3px;background:#fff;border-radius:4px;box-shadow:2px 3px 0 #123C8C;box-sizing:border-box;border:1px solid #000;"></div>
<div class="t" style="left:1058.8px;top:1011.9px;width:600px;height:100px;font-size:19.3px;color:#000;-webkit-text-stroke:0.2px #000;transform:scaleY(0.95);">开源操作系统</div>
<div style="left:1096.1px;top:1101.2px;width:75.4px;height:28.9px;background:#fff;border-radius:4px;box-shadow:2px 3px 0 #123C8C;box-sizing:border-box;border:1px solid #000;"></div>
<div class="t" style="left:833.8px;top:1066.5px;width:600px;height:100px;font-size:19.3px;color:#000;-webkit-text-stroke:0.2px #000;transform:scaleY(0.95);">服务器</div>
<div style="left:1189.4px;top:1101.2px;width:71.2px;height:28.9px;background:#fff;border-radius:4px;box-shadow:2px 3px 0 #123C8C;box-sizing:border-box;border:1px solid #000;"></div>
<div class="t" style="left:925.0px;top:1066.5px;width:600px;height:100px;font-size:19.3px;color:#000;-webkit-text-stroke:0.2px #000;transform:scaleY(0.95);">存储</div>
<div style="left:1271.3px;top:1101.2px;width:71.6px;height:28.9px;background:#fff;border-radius:4px;box-shadow:2px 3px 0 #123C8C;box-sizing:border-box;border:1px solid #000;"></div>
<div class="t" style="left:1007.1px;top:1066.5px;width:600px;height:100px;font-size:19.3px;color:#000;-webkit-text-stroke:0.2px #000;transform:scaleY(0.95);">网络</div>
<div style="left:1353.1px;top:1101.2px;width:90.3px;height:28.9px;background:#fff;border-radius:4px;box-shadow:2px 3px 0 #123C8C;box-sizing:border-box;border:1px solid #000;"></div>
<div class="t" style="left:1098.2px;top:1066.5px;width:600px;height:100px;font-size:19.3px;color:#000;-webkit-text-stroke:0.2px #000;transform:scaleY(0.95);">网络设备</div>
<div style="left:1096.1px;top:1147.3px;width:55.2px;height:29.3px;background:#fff;border-radius:4px;box-shadow:2px 3px 0 #123C8C;box-sizing:border-box;border:1px solid #000;"></div>
<div class="t" style="left:823.7px;top:1111.0px;width:600px;height:100px;font-size:22.26px;color:#000;-webkit-text-stroke:0.4px #000;transform:scaleX(0.9);">ARM</div>
<div style="left:1162px;top:1147.3px;width:59.8px;height:29.3px;background:#fff;border-radius:4px;box-shadow:2px 3px 0 #123C8C;box-sizing:border-box;border:1px solid #000;"></div>
<div class="t" style="left:891.9px;top:1111.0px;width:600px;height:100px;font-size:22.26px;color:#000;-webkit-text-stroke:0.4px #000;transform:scaleX(0.9);">MIPS</div>
<div style="left:1228.6px;top:1147.3px;width:53.3px;height:29.3px;background:#fff;border-radius:4px;box-shadow:2px 3px 0 #123C8C;box-sizing:border-box;border:1px solid #000;"></div>
<div class="t" style="left:955.2px;top:1111.0px;width:600px;height:100px;font-size:22.26px;color:#000;-webkit-text-stroke:0.4px #000;transform:scaleX(0.9);">X86</div>
<div style="left:1290.3px;top:1147.3px;width:62.8px;height:29.3px;background:#fff;border-radius:4px;box-shadow:2px 3px 0 #123C8C;box-sizing:border-box;border:1px solid #000;"></div>
<div class="t" style="left:1021.7px;top:1111.0px;width:600px;height:100px;font-size:22.26px;color:#000;-webkit-text-stroke:0.4px #000;transform:scaleX(0.9);">Alpha</div>
<div style="left:1360.8px;top:1147.3px;width:82.6px;height:29.3px;background:#fff;border-radius:4px;box-shadow:2px 3px 0 #123C8C;box-sizing:border-box;border:1px solid #000;"></div>
<div class="t" style="left:1102.1px;top:1111.0px;width:600px;height:100px;font-size:22.26px;color:#000;-webkit-text-stroke:0.4px #000;transform:scaleX(0.9);">RISC-V</div>
<div style="left:109px;top:1316.5px;width:177px;height:41.0px;background:#fff;box-sizing:border-box;border:1px solid #444;"></div>
<div class="t" style="left:-102.5px;top:1288.8px;width:600px;height:100px;font-size:24.3px;color:#000;-webkit-text-stroke:0.4px #000;transform:scaleY(0.95);">安全可靠测评</div>
<div style="left:344px;top:1316.5px;width:197px;height:41.0px;background:#fff;box-sizing:border-box;border:1px solid #444;"></div>
<div class="t" style="left:142.5px;top:1288.8px;width:600px;height:100px;font-size:24.3px;color:#000;-webkit-text-stroke:0.4px #000;transform:scaleY(0.95);">网络安全等级保护</div>
<div style="left:588.5px;top:1316.5px;width:343.5px;height:41.0px;background:#fff;box-sizing:border-box;border:1px solid #444;"></div>
<div class="t" style="left:460.2px;top:1288.8px;width:600px;height:100px;font-size:24.3px;color:#000;-webkit-text-stroke:0.4px #000;transform:scaleY(0.95);">涉密信息系统分级保护</div>
<div style="left:975px;top:1316.5px;width:320px;height:41.0px;background:#fff;box-sizing:border-box;border:1px solid #444;"></div>
<div class="t" style="left:835.0px;top:1288.8px;width:600px;height:100px;font-size:24.3px;color:#000;-webkit-text-stroke:0.4px #000;transform:scaleY(0.95);">商用密码应用安全性评估</div>
<div style="left:1325px;top:1316.5px;width:316px;height:41.0px;background:#fff;box-sizing:border-box;border:1px solid #444;"></div>
<div class="t" style="left:1183.0px;top:1288.8px;width:600px;height:100px;font-size:24.3px;color:#000;-webkit-text-stroke:0.4px #000;transform:scaleY(0.95);">关键信息基础设施保护</div>
<svg width="1733" height="1386" style="position:absolute;left:0;top:0">
<path d="M504.8,435 A29.6,10.2 0 0 1 564,435 M504.8,435 A29.6,10.2 0 0 0 552,443.2 M504.8,435 V481 A29.6,10.4 0 0 0 564,481 V435 M504.8,450 A29.6,10.2 0 0 0 564,450 M512.4,472.8 A29.6,10.2 0 0 0 564,466" fill="none" stroke="#FFFFFF" stroke-width="5.4" stroke-linecap="round" stroke-linejoin="round" /><path d="M504.8,435 A29.6,10.2 0 0 1 564,435 M504.8,435 A29.6,10.2 0 0 0 552,443.2 M504.8,435 V481 A29.6,10.4 0 0 0 564,481 V435 M504.8,450 A29.6,10.2 0 0 0 564,450 M512.4,472.8 A29.6,10.2 0 0 0 564,466" fill="none" stroke="#5E9CD7" stroke-width="3.2" stroke-linecap="round" stroke-linejoin="round" />
<path d="M640.5,430.2 H720.3 Q727.3,430.2 727.3,437.2 V486.7 Q727.3,493.7 720.3,493.7 H640.5 Q633.5,493.7 633.5,486.7 V437.2 Q633.5,430.2 640.5,430.2 Z" fill="#5E9CD7" stroke="#FFFFFF" stroke-width="1.6" stroke-linejoin="round"/>
<path d="M655.9,443 A10.3,10.3 0 0 1 662.5,461.5 Q666.7,464 666.7,470 V478 Q666.7,480.7 664,480.7 H647.8 Q645,480.7 645,478 V470 Q645,464 649.3,461.5 A10.3,10.3 0 0 1 655.9,443 Z" fill="#174FB8" stroke="#FFFFFF" stroke-width="1.3" stroke-linejoin="round"/>
<rect x="674.7" y="447.2" width="41.09999999999991" height="6.400000000000034" rx="3.200000000000017" fill="#174FB8" stroke="#FFFFFF" stroke-width="1.3"/>
<rect x="674.7" y="459" width="41.09999999999991" height="6.5" rx="3.25" fill="#174FB8" stroke="#FFFFFF" stroke-width="1.3"/>
<rect x="674.7" y="470.3" width="23.799999999999955" height="6.300000000000011" rx="3.1500000000000057" fill="#174FB8" stroke="#FFFFFF" stroke-width="1.3"/>
<path d="M834,437 H809 Q801.5,437 801.5,444.5 V450.5 Q801.5,458 809,458 H847 Q854.5,458 854.5,465.5 V472.5 Q854.5,480 847,480 H823" fill="none" stroke="#FFFFFF" stroke-width="6.2" stroke-linecap="round" stroke-linejoin="round" /><path d="M834,437 H809 Q801.5,437 801.5,444.5 V450.5 Q801.5,458 809,458 H847 Q854.5,458 854.5,465.5 V472.5 Q854.5,480 847,480 H823" fill="none" stroke="#5E9CD7" stroke-width="4.2" stroke-linecap="round" stroke-linejoin="round" />
<path d="M834,437 H809 Q801.5,437 801.5,444.5 V450.5 Q801.5,458 809,458 H847 Q854.5,458 854.5,465.5 V472.5 Q854.5,480 847,480 H823" fill="none" stroke="#fff" stroke-width="0.8"/>
<rect x="834" y="429.5" width="12.5" height="15" rx="2.5" fill="#174FB8" stroke="#FFFFFF" stroke-width="4.2"/>
<rect x="834" y="429.5" width="12.5" height="15" rx="2.5" fill="#174FB8" stroke="#5E9CD7" stroke-width="2"/>
<rect x="847.5" y="430.5" width="8" height="12.5" fill="#BFD6F0" stroke="#FFFFFF" stroke-width="1"/>
<rect x="810.5" y="471.5" width="12.5" height="15" rx="2.5" fill="#174FB8" stroke="#FFFFFF" stroke-width="4.2"/>
<rect x="810.5" y="471.5" width="12.5" height="15" rx="2.5" fill="#174FB8" stroke="#5E9CD7" stroke-width="2"/>
<rect x="801" y="473" width="8.5" height="12.5" fill="#BFD6F0" stroke="#FFFFFF" stroke-width="1"/>
<path d="M822.8,455 V450 A6.1,6.3 0 0 1 835,450 V455" fill="none" stroke="#FFFFFF" stroke-width="4.6" stroke-linecap="round" stroke-linejoin="round" /><path d="M822.8,455 V450 A6.1,6.3 0 0 1 835,450 V455" fill="none" stroke="#5E9CD7" stroke-width="2.6" stroke-linecap="round" stroke-linejoin="round" />
<rect x="819.5" y="455" width="19" height="11" rx="2.5" fill="#174FB8" stroke="#FFFFFF" stroke-width="3.4"/>
<rect x="819.5" y="455" width="19" height="11" rx="2.5" fill="#174FB8" stroke="#5E9CD7" stroke-width="1.6"/>
<rect x="827.8" y="457.5" width="2.4" height="5.5" rx="1.2" fill="#FFFFFF"/>
<path d="M933.6,484 H919.5 Q912.8,484 912.8,477.3 V437 Q912.8,430.3 919.5,430.3 H949.4 Q956.1,430.3 956.1,437 V456.1" fill="none" stroke="#FFFFFF" stroke-width="5.4" stroke-linecap="round" stroke-linejoin="round" /><path d="M933.6,484 H919.5 Q912.8,484 912.8,477.3 V437 Q912.8,430.3 919.5,430.3 H949.4 Q956.1,430.3 956.1,437 V456.1" fill="none" stroke="#5E9CD7" stroke-width="3.2" stroke-linecap="round" stroke-linejoin="round" />
<path d="M921,444.1 H948.4 M921,456.7 H939.1 M921,469.3 H930.9" fill="none" stroke="#FFFFFF" stroke-width="5.4" stroke-linecap="round" stroke-linejoin="round" /><path d="M921,444.1 H948.4 M921,456.7 H939.1 M921,469.3 H930.9" fill="none" stroke="#5E9CD7" stroke-width="3.4" stroke-linecap="round" stroke-linejoin="round" />
<path d="M944.3,470 V465.5 A6,6.2 0 0 1 956.3,465.5 V470" fill="none" stroke="#FFFFFF" stroke-width="4.6" stroke-linecap="round" stroke-linejoin="round" /><path d="M944.3,470 V465.5 A6,6.2 0 0 1 956.3,465.5 V470" fill="none" stroke="#5E9CD7" stroke-width="2.6" stroke-linecap="round" stroke-linejoin="round" />
<rect x="939.4" y="469.3" width="22" height="18" rx="3" fill="#5E9CD7" stroke="#FFFFFF" stroke-width="1.3"/>
<circle cx="950.4" cy="476" r="2.4" fill="#FFFFFF"/><rect x="949.4" y="476" width="2" height="6" fill="#FFFFFF"/>
<path d="M1043.4,423.6 L1017.5,437.5 Q1016.5,466 1043.4,484.2 Q1070.3,466 1069.3,437.5 Z" fill="none" stroke="#FFFFFF" stroke-width="5.6" stroke-linecap="round" stroke-linejoin="round" /><path d="M1043.4,423.6 L1017.5,437.5 Q1016.5,466 1043.4,484.2 Q1070.3,466 1069.3,437.5 Z" fill="none" stroke="#5E9CD7" stroke-width="3.4" stroke-linecap="round" stroke-linejoin="round" />
<circle cx="1043.4" cy="442.9" r="7.4" fill="#5E9CD7" stroke="#FFFFFF" stroke-width="1"/>
<path d="M1029,464.2 Q1029,451 1043.4,451 Q1057.7,451 1057.7,464.2 Z" fill="#5E9CD7" stroke="#FFFFFF" stroke-width="1" stroke-linejoin="round"/>
<path d="M1141.5,446 L1154,426 H1201.5 L1214,446 V485.6 H1141.5 Z M1141.5,446 H1214 M1141.5,466.2 H1214 M1166,446 V485.6 M1190,446 V485.6 M1166,446 L1171,426 M1190,446 L1185,426" fill="none" stroke="#FFFFFF" stroke-width="4.5" stroke-linecap="round" stroke-linejoin="round" /><path d="M1141.5,446 L1154,426 H1201.5 L1214,446 V485.6 H1141.5 Z M1141.5,446 H1214 M1141.5,466.2 H1214 M1166,446 V485.6 M1190,446 V485.6 M1166,446 L1171,426 M1190,446 L1185,426" fill="none" stroke="#5E9CD7" stroke-width="2.4" stroke-linecap="round" stroke-linejoin="round" />
<path d="M1280.6,483 V463.5 Q1280.6,460.3 1283.5,459 L1296.5,453.5 Q1299.5,451.5 1297.5,448 Q1291,440 1292.5,432.5 Q1294.5,423.4 1305.2,423.4 Q1316,423.4 1318,432.5 Q1319.5,440 1313,448 Q1311,451.5 1314,453.5 L1327,459 Q1329.9,460.3 1329.9,463.5 V483" fill="none" stroke="#FFFFFF" stroke-width="5.0" stroke-linecap="round" stroke-linejoin="round" stroke-linecap="butt"/><path d="M1280.6,483 V463.5 Q1280.6,460.3 1283.5,459 L1296.5,453.5 Q1299.5,451.5 1297.5,448 Q1291,440 1292.5,432.5 Q1294.5,423.4 1305.2,423.4 Q1316,423.4 1318,432.5 Q1319.5,440 1313,448 Q1311,451.5 1314,453.5 L1327,459 Q1329.9,460.3 1329.9,463.5 V483" fill="none" stroke="#5E9CD7" stroke-width="3.0" stroke-linecap="round" stroke-linejoin="round" stroke-linecap="butt"/>
<path d="M1295,472.7 H1315.5 M1287.5,468.5 A5.2,5.2 0 1 1 1287.5,477 M1323,468.5 A5.2,5.2 0 1 0 1323,477" fill="none" stroke="#FFFFFF" stroke-width="4.8" stroke-linecap="round" stroke-linejoin="round" /><path d="M1295,472.7 H1315.5 M1287.5,468.5 A5.2,5.2 0 1 1 1287.5,477 M1323,468.5 A5.2,5.2 0 1 0 1323,477" fill="none" stroke="#5E9CD7" stroke-width="2.8" stroke-linecap="round" stroke-linejoin="round" />
<g stroke="#FFFFFF" stroke-width="3"><circle cx="491.5" cy="606.5" r="23.9"/><circle cx="537.5" cy="606.5" r="23.9"/><circle cx="514.3" cy="587.3" r="23.9"/><rect x="491.5" y="606" width="46" height="23.9"/></g>
<g fill="#5E9CD7"><circle cx="491.5" cy="606.5" r="23.9"/><circle cx="537.5" cy="606.5" r="23.9"/><circle cx="514.3" cy="587.3" r="23.9"/><rect x="491.5" y="606" width="46" height="23.9"/></g>
<path d="M499,592 Q507,595 514.3,590.8 Q521.5,595 529.6,592 Q530,610 514.3,620 Q498.6,610 499,592 Z" fill="#1475A6" stroke="#FFFFFF" stroke-width="1.4" stroke-linejoin="round"/>
<path d="M502.5,595.5 Q508.5,597 514.3,594.5 V615 Q502.5,607.5 502.5,595.5 Z" fill="#5E9CD7" stroke="#FFFFFF" stroke-width="1.1" stroke-linejoin="round"/>
<rect x="647" y="560.6" width="17.5" height="13" rx="1.5" fill="#5E9CD7" stroke="#FFFFFF" stroke-width="1.1"/>
<rect x="619.5" y="565" width="24.5" height="21" rx="1.2" fill="#1475A6" stroke="#FFFFFF" stroke-width="4"/>
<rect x="619.5" y="565" width="24.5" height="21" rx="1.2" fill="#1475A6" stroke="#5E9CD7" stroke-width="1.8"/>
<rect x="625" y="588" width="14" height="3" fill="#FFFFFF"/>
<circle cx="687.2" cy="574.5" r="15.8" fill="#5E9CD7" stroke="#FFFFFF" stroke-width="1.2"/>
<g fill="none" stroke="#FFFFFF" stroke-width="2.1"><ellipse cx="687.2" cy="574.5" rx="7" ry="15.8"/><line x1="687.2" y1="558.7" x2="687.2" y2="590.3"/><line x1="671.4" y1="574.5" x2="703" y2="574.5"/><path d="M674,566 H700.4 M674,583 H700.4"/></g>
<path d="M659.5,570.8 Q672,574 685.1,580 Q684,610 659.5,629.3 Q635,610 633.9,580 Q647,574 659.5,570.8 Z" fill="#1475A6" stroke="#1475A6" stroke-width="5"/>
<path d="M659.5,570.8 Q672,574 685.1,580 Q684,610 659.5,629.3 Q635,610 633.9,580 Q647,574 659.5,570.8 Z" fill="#5E9CD7" stroke="#FFFFFF" stroke-width="1.6" stroke-linejoin="round"/>
<path d="M641,584 Q650,580 659.5,577.5 V598 H643 Q641.2,590 641,584 Z" fill="#1475A6" stroke="#FFFFFF" stroke-width="1.2" stroke-linejoin="round"/>
<path d="M659.5,598 H676.8 Q673,612 659.5,621.5 Z" fill="#1475A6" stroke="#FFFFFF" stroke-width="1.2" stroke-linejoin="round"/>
<path d="M751.3,564.6 H806.4 V576 Q806.4,607 778.85,624.6 Q751.3,607 751.3,576 Z" fill="none" stroke="#FFFFFF" stroke-width="5.1" stroke-linecap="round" stroke-linejoin="round" style="stroke-linejoin:miter"/><path d="M751.3,564.6 H806.4 V576 Q806.4,607 778.85,624.6 Q751.3,607 751.3,576 Z" fill="none" stroke="#5E9CD7" stroke-width="2.9" stroke-linecap="round" stroke-linejoin="round" style="stroke-linejoin:miter"/>
<path d="M769,589.6 H789.2 A10.1,11 0 1 0 786.2,597.3" fill="none" stroke="#FFFFFF" stroke-width="4.6" stroke-linecap="round" stroke-linejoin="round" stroke-linecap="butt"/><path d="M769,589.6 H789.2 A10.1,11 0 1 0 786.2,597.3" fill="none" stroke="#5E9CD7" stroke-width="2.6" stroke-linecap="round" stroke-linejoin="round" stroke-linecap="butt"/>
<polygon points="889,565.6 917.8,561.3 917.8,630.7 889,626.3" fill="#5E9CD7" stroke="#FFFFFF" stroke-width="1.3"/>
<circle cx="916.3" cy="596.4" r="21" fill="#1475A6" stroke="#FFFFFF" stroke-width="1.3"/>
<circle cx="916.3" cy="596.4" r="17" fill="#5E9CD7" stroke="#FFFFFF" stroke-width="1.3"/>
<g fill="none" stroke="#FFFFFF" stroke-width="1.6"><ellipse cx="916.3" cy="596.4" rx="8" ry="17"/><line x1="916.3" y1="579.4" x2="916.3" y2="613.4"/><path d="M899.3,596.4 H933.3 M901.5,587.5 H931.1 M901.5,605.3 H931.1"/></g>
<rect x="860" y="578.2" width="8" height="3.6" fill="#5E9CD7" stroke="#FFFFFF" stroke-width="1"/>
<path d="M875,580 H885.5 M880.5,574.5 L886,580 L880.5,585.5" fill="none" stroke="#FFFFFF" stroke-width="3.4000000000000004" stroke-linecap="round" stroke-linejoin="round" /><path d="M875,580 H885.5 M880.5,574.5 L886,580 L880.5,585.5" fill="none" stroke="#5E9CD7" stroke-width="1.6" stroke-linecap="round" stroke-linejoin="round" />
<rect x="859" y="594.6" width="4" height="3.6" fill="#5E9CD7" stroke="#FFFFFF" stroke-width="1"/>
<rect x="866" y="594.6" width="4" height="3.6" fill="#5E9CD7" stroke="#FFFFFF" stroke-width="1"/>
<rect x="873" y="594.6" width="3" height="3.6" fill="#5E9CD7" stroke="#FFFFFF" stroke-width="1"/>
<path d="M875,596.4 H885.5 M880.5,590.9 L886,596.4 L880.5,601.9" fill="none" stroke="#FFFFFF" stroke-width="3.4000000000000004" stroke-linecap="round" stroke-linejoin="round" /><path d="M875,596.4 H885.5 M880.5,590.9 L886,596.4 L880.5,601.9" fill="none" stroke="#5E9CD7" stroke-width="1.6" stroke-linecap="round" stroke-linejoin="round" />
<rect x="863" y="611.0" width="4" height="3.6" fill="#5E9CD7" stroke="#FFFFFF" stroke-width="1"/>
<rect x="870" y="611.0" width="4" height="3.6" fill="#5E9CD7" stroke="#FFFFFF" stroke-width="1"/>
<path d="M875,612.8 H885.5 M880.5,607.3 L886,612.8 L880.5,618.3" fill="none" stroke="#FFFFFF" stroke-width="3.4000000000000004" stroke-linecap="round" stroke-linejoin="round" /><path d="M875,612.8 H885.5 M880.5,607.3 L886,612.8 L880.5,618.3" fill="none" stroke="#5E9CD7" stroke-width="1.6" stroke-linecap="round" stroke-linejoin="round" />
<path d="M997,590.2 H983.2 V582.3 L961.6,596.4 L983.2,610.6 V602.6 H997 M1025.5,590.2 H1037.8 V582.3 L1059.6,596.4 L1037.8,610.6 V602.6 H1025.5 M998.2,584.5 H1024.8 V610.8 H998.2 Z" fill="none" stroke="#FFFFFF" stroke-width="5.0" stroke-linecap="round" stroke-linejoin="round" /><path d="M997,590.2 H983.2 V582.3 L961.6,596.4 L983.2,610.6 V602.6 H997 M1025.5,590.2 H1037.8 V582.3 L1059.6,596.4 L1037.8,610.6 V602.6 H1025.5 M998.2,584.5 H1024.8 V610.8 H998.2 Z" fill="none" stroke="#5E9CD7" stroke-width="2.8" stroke-linecap="round" stroke-linejoin="round" />
<path d="M1101.5,563.3 H1137.8 L1153.7,577.9 V586.9 H1162.6 V620.5 H1153.7 V630.1 H1101.5 Z" fill="#5E9CD7" stroke="#FFFFFF" stroke-width="1.4" stroke-linejoin="round"/>
<rect x="1118" y="592.3" width="39.3" height="22.7" fill="#1475A6" stroke="#FFFFFF" stroke-width="1.3"/>
<text x="1137.6" y="608.8" text-anchor="middle" font-family="Liberation Sans" font-weight="bold" font-size="16.5" fill="#5E9CD7" stroke="#FFFFFF" stroke-width="0.9" letter-spacing="-1">LOG</text>
<path d="M1241.2,563.2 Q1256,564.5 1270,568 Q1273,611 1241.2,631.6 Q1209.5,611 1212.6,568 Q1226,564.5 1241.2,563.2 Z" fill="#5E9CD7" stroke="#FFFFFF" stroke-width="1.5" stroke-linejoin="round"/>
<path d="M1219,571.5 Q1230,569.3 1241.2,568.4 V597.4 H1220 Q1218.8,583 1219,571.5 Z" fill="#1475A6" stroke="#FFFFFF" stroke-width="1.2" stroke-linejoin="round"/>
<path d="M1241.2,597.4 H1262.8 Q1258,614 1241.2,624.5 Z" fill="#1475A6" stroke="#FFFFFF" stroke-width="1.2" stroke-linejoin="round"/>
<path d="M1318.3,561.3 H1360 Q1365.3,561.3 1365.3,566.6 V597.4 H1355.8 Q1350.3,597.4 1350.3,603 V632.4 H1318.3 Q1313,632.4 1313,627 V566.6 Q1313,561.3 1318.3,561.3 Z" fill="#5E9CD7" stroke="#FFFFFF" stroke-width="1.5" stroke-linejoin="round"/>
<rect x="1321" y="570.8" width="37" height="8" rx="4" fill="#1475A6" stroke="#FFFFFF" stroke-width="1.2"/>
<rect x="1321" y="584.3" width="37" height="8.5" rx="4.2" fill="#1475A6" stroke="#FFFFFF" stroke-width="1.2"/>
<circle cx="1339" cy="606.4" r="6.3" fill="#1475A6" stroke="#FFFFFF" stroke-width="1.2"/>
<path d="M1363.5,603 L1353.5,619.5 H1359.5 L1356.5,630.5 L1367.5,612.5 H1361.5 L1365.5,603 Z" fill="#5E9CD7" stroke="#FFFFFF" stroke-width="1" stroke-linejoin="round"/>
<path d="M1369.5,609.5 Q1373,616 1369.5,622.5 M1374,604.5 Q1380,616 1374,627.5 M1378.5,601.5 Q1387,616 1378.5,630.5" fill="none" stroke="#FFFFFF" stroke-width="3.6" stroke-linecap="round" stroke-linejoin="round" /><path d="M1369.5,609.5 Q1373,616 1369.5,622.5 M1374,604.5 Q1380,616 1374,627.5 M1378.5,601.5 Q1387,616 1378.5,630.5" fill="none" stroke="#5E9CD7" stroke-width="1.8" stroke-linecap="round" stroke-linejoin="round" />
</svg>
<div class="t" style="left:432px;top:494.0px;width:200px;height:40px;font-size:14.3px;color:#fff;-webkit-text-stroke:0.1px #fff;">分级分类</div>
<div class="t" style="left:580.6px;top:494.0px;width:200px;height:40px;font-size:14.3px;color:#fff;-webkit-text-stroke:0.1px #fff;">身份认证</div>
<div class="t" style="left:734.3px;top:491.7px;width:200px;height:40px;font-size:14.3px;color:#fff;-webkit-text-stroke:0.1px #fff;">传输加密</div>
<div class="t" style="left:838.3px;top:493.6px;width:200px;height:40px;font-size:14.3px;color:#fff;-webkit-text-stroke:0.1px #fff;">数据加密</div>
<div class="t" style="left:942.7px;top:493.6px;width:200px;height:40px;font-size:14.3px;color:#fff;-webkit-text-stroke:0.1px #fff;">操作审计</div>
<div class="t" style="left:1076.6px;top:493.6px;width:200px;height:40px;font-size:14.3px;color:#fff;-webkit-text-stroke:0.1px #fff;">脱敏水印</div>
<div class="t" style="left:1204.8px;top:493.6px;width:200px;height:40px;font-size:14.3px;color:#fff;-webkit-text-stroke:0.1px #fff;">运维管控</div>
<div class="t" style="left:417.79999999999995px;top:637.3px;width:200px;height:40px;font-size:14.3px;color:#fff;-webkit-text-stroke:0.1px #fff;">虚拟化安全组件</div>
<div class="t" style="left:549.7px;top:638.5px;width:200px;height:40px;font-size:14.3px;color:#fff;-webkit-text-stroke:0.1px #fff;">态势感知</div>
<div class="t" style="left:678.6px;top:637.8px;width:200px;height:40px;font-size:15.6px;color:#fff;-webkit-text-stroke:0.1px #fff;transform:scaleX(0.95);">WAF</div>
<div class="t" style="left:788.8px;top:636.5px;width:200px;height:40px;font-size:15.6px;color:#fff;-webkit-text-stroke:0.1px #fff;transform:scaleX(0.95);">FW</div>
<div class="t" style="left:910.6px;top:637.0px;width:200px;height:40px;font-size:14.3px;color:#fff;-webkit-text-stroke:0.1px #fff;">网闸</div>
<div class="t" style="left:1031.6px;top:637.0px;width:200px;height:40px;font-size:14.3px;color:#fff;-webkit-text-stroke:0.1px #fff;">安全审计</div>
<div class="t" style="left:1137.2px;top:637.0px;width:200px;height:40px;font-size:14.3px;color:#fff;-webkit-text-stroke:0.1px #fff;">终端安全</div>
<div class="t" style="left:1239.4px;top:637.0px;width:200px;height:40px;font-size:15.6px;color:#fff;-webkit-text-stroke:0.1px #fff;transform:scaleX(0.95);">IPS</div>
</body></html>
